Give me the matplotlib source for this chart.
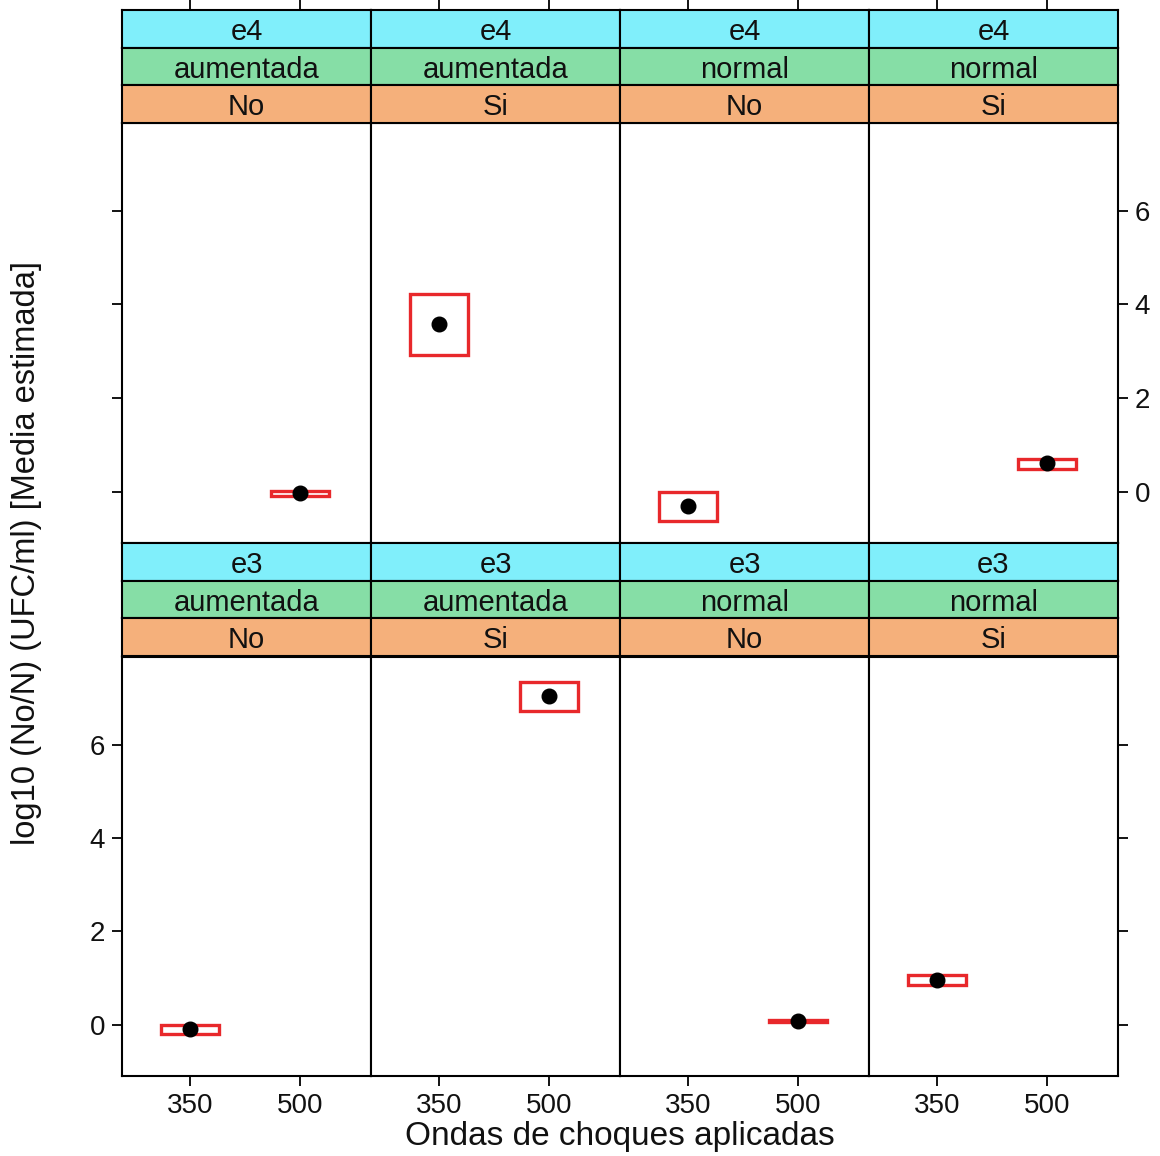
import matplotlib
matplotlib.use("Agg")
import matplotlib.pyplot as plt
from matplotlib.patches import Rectangle

plt.rcParams['font.family'] = ['Liberation Sans', 'DejaVu Sans']

# ---- data ----
row_levels = ["e4", "e3"]                       # top row, bottom row
tipo_levels = ["aumentada", "aumentada", "normal", "normal"]
trat_levels = ["No", "Si", "No", "Si"]
x_ticks = [350, 500]
y_ticks = [0, 2, 4, 6]

# per panel (row, col): x position (ondas), estimated mean, lower, upper
e4_x = [500, 350, 350, 500]
e4_mean = [-0.04, 3.58, -0.30, 0.62]
e4_low = [-0.10, 2.93, -0.63, 0.49]
e4_high = [0.02, 4.22, -0.02, 0.69]

e3_x = [350, 500, 500, 350]
e3_mean = [-0.09, 7.05, 0.08, 0.96]
e3_low = [-0.21, 6.73, 0.06, 0.84]
e3_high = [0.00, 7.35, 0.10, 1.07]

xlabel = "Ondas de choques aplicadas"
ylabel = "log10 (No/N) (UFC/ml) [Media estimada]"

# ---- style ----
W, H = 1160, 1156
fig = plt.figure(figsize=(W / 100, H / 100), dpi=100)

col_left = [122, 371, 620, 869]
col_w = 249
strip_h = 37.7
row_strip_top = [10, 543]
row_plot_top = [123, 657]
row_plot_bot = [543, 1076]
strip_colors = ["#80EFFB", "#86DEA6", "#F5B07B"]
XLIM = (257.3, 596.9)
YLIM = (-1.10, 7.88)
BOX_HALF = 39

def fr(x0, y0, x1, y1):
    return [x0 / W, 1 - y1 / H, (x1 - x0) / W, (y1 - y0) / H]

rows = [(e4_x, e4_mean, e4_low, e4_high), (e3_x, e3_mean, e3_low, e3_high)]
fs_tick = 20
fs_strip = 21
LW = 1.5

for r in range(2):
    xs, ms, lo, hi = rows[r]
    for c in range(4):
        x0 = col_left[c]
        x1 = x0 + col_w
        ax = fig.add_axes(fr(x0, row_plot_top[r], x1, row_plot_bot[r]))
        ax.set_xlim(*XLIM)
        ax.set_ylim(*YLIM)
        for s in ax.spines.values():
            s.set_linewidth(LW)
        ax.add_patch(Rectangle((xs[c] - BOX_HALF, lo[c]), 2 * BOX_HALF, hi[c] - lo[c],
                               fill=False, edgecolor="#E8282B", linewidth=2.4, zorder=2))
        ax.plot([xs[c]], [ms[c]], 'o', color='black', markersize=10.5, zorder=3)
        ax.set_xticks(x_ticks)
        ax.set_yticks(y_ticks)
        ax.tick_params(direction='out', length=7, width=1.3, labelsize=fs_tick, pad=5,
                       labelcolor='#111111')
        if r == 1:
            ax.tick_params(axis='x', bottom=True, labelbottom=True, top=False, labeltop=False)
        else:
            ax.tick_params(axis='x', bottom=False, labelbottom=False, top=False, labeltop=False)
        left_t = (c == 0)
        right_t = (c == 3)
        ax.tick_params(axis='y', left=left_t, right=right_t,
                       labelleft=(left_t and r == 1), labelright=(right_t and r == 0))

        # strips
        labels = [row_levels[r], tipo_levels[c], trat_levels[c]]
        for k in range(3):
            y0 = row_strip_top[r] + k * strip_h
            sa = fig.add_axes(fr(x0, y0, x1, y0 + strip_h))
            sa.set_facecolor(strip_colors[k])
            sa.set_xlim(*XLIM)
            sa.set_ylim(0, 1)
            sa.set_yticks([])
            for s in sa.spines.values():
                s.set_linewidth(LW)
            if r == 0 and k == 0:
                sa.set_xticks(x_ticks)
                sa.tick_params(axis='x', bottom=False, labelbottom=False, top=True,
                               labeltop=False, direction='out', length=7, width=1.3)
            else:
                sa.set_xticks([])
            sa.text(0.5, 0.42, labels[k], transform=sa.transAxes, ha='center', va='center',
                    fontsize=fs_strip, color='#111111')

fig.text(620 / W, 1 - 1136 / H, xlabel, ha='center', va='center', fontsize=24, color='#111111')
fig.text(27 / W, 1 - 553 / H, ylabel, ha='center', va='center', fontsize=23.5, rotation=90,
         color='#111111')

fig.savefig("out.png", dpi=100, facecolor='white')
